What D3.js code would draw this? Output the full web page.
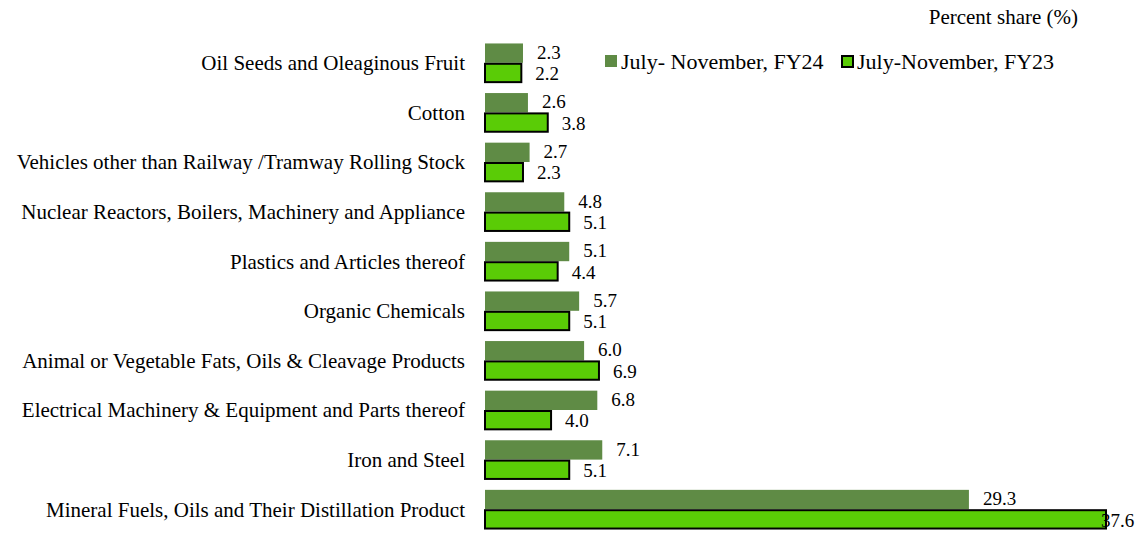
<!DOCTYPE html>
<meta charset="utf-8">
<style>
body { margin: 0; background: #fff; }
text { font-family: 'Liberation Serif', 'Times New Roman', serif; fill: #000; }
</style>
<script src="https://cdn.jsdelivr.net/npm/d3@7"></script>
<body>
<script>
var categories = [
  "Oil Seeds and Oleaginous Fruit",
  "Cotton",
  "Vehicles other than Railway /Tramway Rolling Stock",
  "Nuclear Reactors, Boilers, Machinery and Appliance",
  "Plastics and Articles thereof",
  "Organic Chemicals",
  "Animal or Vegetable Fats, Oils & Cleavage Products",
  "Electrical Machinery & Equipment and Parts thereof",
  "Iron and Steel",
  "Mineral Fuels, Oils and Their Distillation Product"
];
var fy24 = [2.3, 2.6, 2.7, 4.8, 5.1, 5.7, 6.0, 6.8, 7.1, 29.3];
var fy23 = [2.2, 3.8, 2.3, 5.1, 4.4, 5.1, 6.9, 4.0, 5.1, 37.6];
var seriesNames = ["July- November, FY24", "July-November, FY23"];
var colors = ["#5f8b45", "#5acc06"];

var W = 1140, H = 538;
var svg = d3.select("body").append("svg").attr("width", W).attr("height", H);

var x = d3.scaleLinear().domain([0, 37.6]).range([484, 1105]);
var y = d3.scaleBand().domain(categories).range([38, 534]).paddingInner(0.22).paddingOuter(0.11);
var sub = d3.scaleBand().domain([0, 1]).range([0, y.bandwidth()]);

// category labels
svg.append("g").selectAll("text")
  .data(categories).enter().append("text")
  .attr("x", 465)
  .attr("y", function(d) { return y(d) + y.bandwidth() / 2; })
  .attr("dy", "0.35em")
  .attr("text-anchor", "end")
  .attr("font-size", "21px")
  .text(function(d) { return d; });

var rows = categories.map(function(c, i) { return {cat: c, vals: [fy24[i], fy23[i]]}; });

var grp = svg.append("g").selectAll("g")
  .data(rows).enter().append("g")
  .attr("transform", function(d) { return "translate(0," + y(d.cat) + ")"; });

grp.selectAll("rect")
  .data(function(d) { return d.vals.map(function(v, k) { return {v: v, k: k}; }); })
  .enter().append("rect")
  .attr("x", x(0) + 1)
  .attr("y", function(d) { return sub(d.k) + (d.k === 1 ? 1 : 0); })
  .attr("width", function(d) { return x(d.v) - x(0); })
  .attr("height", function(d) { return sub.bandwidth() - (d.k === 1 ? 1 : 0); })
  .attr("fill", function(d) { return colors[d.k]; })
  .attr("stroke", function(d) { return d.k === 1 ? "#000" : "none"; })
  .attr("stroke-width", 2);

// value labels, pushed slightly apart so the pair does not collide
grp.selectAll("text")
  .data(function(d) { return d.vals.map(function(v, k) { return {v: v, k: k}; }); })
  .enter().append("text")
  .attr("x", function(d) { return Math.min(x(d.v) + 15, 1101); })
  .attr("y", function(d) { return sub(d.k) + sub.bandwidth() / 2 + (d.k === 0 ? -1 : 1); })
  .attr("dy", "0.35em")
  .attr("font-size", "19px")
  .text(function(d) { return d.v.toFixed(1); });

// legend
var legend = svg.append("g").attr("transform", "translate(605,61)");
var lx = [0, 236];
seriesNames.forEach(function(name, k) {
  legend.append("rect")
    .attr("x", lx[k] + (k === 1 ? 1 : 0)).attr("y", -6 + (k === 1 ? 1 : 0))
    .attr("width", k === 1 ? 11 : 12).attr("height", k === 1 ? 11 : 12)
    .attr("fill", colors[k])
    .attr("stroke", k === 1 ? "#000" : "none")
    .attr("stroke-width", 2);
  legend.append("text")
    .attr("x", lx[k] + 16).attr("y", 0).attr("dy", "0.35em")
    .attr("font-size", "22px")
    .text(name);
});

svg.append("text")
  .attr("x", 1078).attr("y", 24)
  .attr("text-anchor", "end")
  .attr("font-size", "21px")
  .text("Percent share (%)");
</script>
</body>
